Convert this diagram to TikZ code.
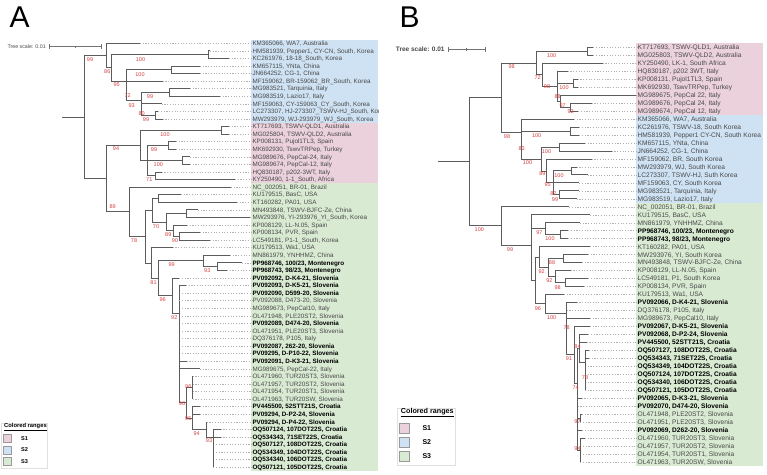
\documentclass[tikz,border=0pt]{standalone}
\usepackage{fontspec}
\setmainfont{Liberation Sans}
\definecolor{cpink}{RGB}{234,209,220}
\definecolor{cblue}{RGB}{207,226,243}
\definecolor{cgreen}{RGB}{217,234,211}
\definecolor{bsred}{RGB}{214,64,64}
\definecolor{brc}{RGB}{92,92,92}
\definecolor{lblc}{RGB}{72,72,72}
\pgfmathdeclarefunction{ya}{1}{\pgfmathparse{43.3+(#1-1)*7.57}}
\pgfmathdeclarefunction{yb}{1}{\pgfmathparse{47.3+(#1-1)*7.975}}
\newcommand\bb[1]{\textcolor{black}{\bfseries #1}}
\newcommand\leafA[5]{%
  \coordinate (#1t) at (#3,{ya(#2)});
  \node[lblA] (#1) at (252.3,{ya(#2)}) {#5};
  \draw[dotl] (#1t) -- (#1.west);
  \draw[br] (#1t) -| (#4);
}
\newcommand\leafB[5]{%
  \coordinate (#1t) at (#3,{yb(#2)});
  \node[lblB] (#1) at (637.5,{yb(#2)}) {#5};
  \draw[dotl] (#1t) -- (#1.west);
  \draw[br] (#1t) -| (#4);
}
\begin{document}
\begin{tikzpicture}[x=1pt,y=-1pt,
  br/.style={draw=brc, line width=0.85pt},
  dotl/.style={draw=black!30, line width=0.5pt, dash pattern=on 1.1pt off 1.6pt},
  lblA/.style={anchor=west, inner sep=0pt, font=\fontsize{6.3}{7}\selectfont, text=lblc, text height=4.5pt, text depth=0pt},
  lblB/.style={anchor=west, inner sep=0pt, font=\fontsize{6.6}{7.5}\selectfont, text=lblc, text height=4.7pt, text depth=0pt},
  bs/.style={inner sep=0pt, font=\fontsize{5.5}{6}\selectfont, text=bsred},
  scb/.style={draw=black!55, line width=0.8pt},
  lgbox/.style={draw=black!40, line width=0.4pt},
  lgframe/.style={draw=black!12, line width=0.5pt}
]
\fill[white] (0,0) rectangle (767,474);
\useasboundingbox (0,0) rectangle (767,474);

%================ PANEL A ================
\begin{scope}
\clip (0,0) rectangle (378.3,474);
\node[anchor=base west, inner sep=0pt, font=\fontsize{30}{30}\selectfont] (lettA) at (9.5,27) {A};
% coloured ranges
\fill[cblue] (250.5,39.5) rectangle (378.3,122.8);
\fill[cpink] (250.5,122.8) rectangle (378.3,183.4);
\fill[cgreen] (250.5,183.4) rectangle (378.3,471);
% tree scale
\node[anchor=west, inner sep=0pt, font=\fontsize{5.3}{6}\selectfont, text=lblc] (tsA) at (7.3,46.7) {Tree scale: 0.01};
\coordinate (tsA1) at (49.3,46.7);
\coordinate (tsA2) at (101.7,46.7);
\coordinate (tsAm) at (75.5,46.7);
\draw[scb] (tsA1) -- (tsA2);
\draw[scb] ([yshift=2.3pt]tsA1) -- ([yshift=-2.3pt]tsA1);
\draw[scb] ([yshift=2.3pt]tsA2) -- ([yshift=-2.3pt]tsA2);
\draw[scb] ([yshift=1.2pt]tsAm) -- ([yshift=-1.2pt]tsAm);
% internal nodes
\coordinate (aR0) at (62.3,117.1);
\coordinate (aR) at (84,117.1);
\coordinate (aA1) at (106,55.6);
\coordinate (aA2) at (111.7,67.9);
\coordinate (aN23) at (208.3,54.65);
\coordinate (aA3) at (126.7,81.2);
\coordinate (aN45) at (171,69.8);
\coordinate (aA4) at (141.7,100);
\coordinate (aN78) at (169.5,92.5);
\coordinate (aN1011) at (155,115.2);
\coordinate (aB1) at (106,178.6);
\coordinate (aC1) at (140,145.5);
\coordinate (aN1213) at (221.7,130.35);
\coordinate (aC2) at (147.3,160.65);
\coordinate (aN1415) at (168.3,145.5);
\coordinate (aN1617) at (182.5,160.65);
\coordinate (aN1819) at (155,175.8);
\coordinate (aD1) at (129.3,211.9);
\coordinate (aD2) at (145,236.65);
\coordinate (aD3) at (152,210.3);
\coordinate (aD4) at (158.3,198.5);
\coordinate (aD5) at (166,222.1);
\coordinate (aD6) at (186.7,213.6);
\coordinate (aD7) at (173.3,230.65);
\coordinate (aD8) at (179,236.3);
\coordinate (aD9) at (151.7,263);
\coordinate (aD10) at (158.3,278.25);
\coordinate (aN2931) at (203.3,260.9);
\coordinate (aN3031) at (217.7,266.6);
\coordinate (aN92) at (172.7,295.65);
\coordinate (aP) at (179.3,313.3);
\coordinate (aQ) at (186,402.9);
\coordinate (aTUR) at (192.7,387.7);
\coordinate (aRr) at (192.7,418);
\coordinate (aS) at (206.7,429.55);
\coordinate (aT) at (213.3,437.3);
% internal edges
\draw[br] (aR0) -- (aR);
\foreach \c/\p in {aA1/aR,aB1/aR,aA2/aA1,aN23/aA2,aA3/aA2,aN45/aA3,aA4/aA3,aN78/aA4,aN1011/aA4,
  aC1/aB1,aD1/aB1,aN1213/aC1,aC2/aC1,aN1415/aC2,aN1617/aC2,aN1819/aC2,
  aD2/aD1,aD3/aD2,aD9/aD2,aD4/aD3,aD5/aD3,aD6/aD5,aD7/aD5,aD8/aD7,aD10/aD9,aN2931/aD10,aN92/aD10,
  aN3031/aN2931,aP/aN92,aQ/aP,aTUR/aQ,aRr/aQ,aS/aRr,aT/aS}
  {\draw[br] (\c) -| (\p);}
% leaves
\leafA{a1}{1}{140}{aA1}{KM365066, WA7, Australia}
\leafA{a2}{2}{210}{aN23}{HM581939, Pepper1, CY-CN, South, Korea}
\leafA{a3}{3}{229}{aN23}{KC261976, 18-18\_South, Korea}
\leafA{a4}{4}{200}{aN45}{KM657115, YNta, China}
\leafA{a5}{5}{200}{aN45}{JN664252, CG-1, China}
\leafA{a6}{6}{162.7}{aA3}{MF159062, BR-159062\_BR\_South, Korea}
\leafA{a7}{7}{190}{aN78}{MG983521, Tarquinia, Italy}
\leafA{a8}{8}{220}{aN78}{MG983519, Lazio17, Italy}
\leafA{a9}{9}{161.7}{aA4}{MF159063, CY-159063\_CY\_South, Korea}
\leafA{a10}{10}{158.3}{aN1011}{LC273307, HJ-273307\_TSWV-HJ\_South, Korea}
\leafA{a11}{11}{162.7}{aN1011}{MW293979, WJ-293979\_WJ\_South, Korea}
\leafA{a12}{12}{229}{aN1213}{KT717693, TSWV-QLD1, Australia}
\leafA{a13}{13}{229}{aN1213}{MG025804, TSWV-QLD2, Australia}
\leafA{a14}{14}{176}{aN1415}{KP008131, Pujol1TL3, Spain}
\leafA{a15}{15}{176}{aN1415}{MK692930, TswvTRPep, Turkey}
\leafA{a16}{16}{190}{aN1617}{MG989676, PepCal-24, Italy}
\leafA{a17}{17}{190}{aN1617}{MG989674, PepCal-12, Italy}
\leafA{a18}{18}{161.7}{aN1819}{HQ830187, p202-3WT, Italy}
\leafA{a19}{19}{235}{aN1819}{KY250490, 1-1\_South, Africa}
\leafA{a20}{20}{231}{aD1}{NC\_002051, BR-01, Brazil}
\leafA{a21}{21}{181}{aD4}{KU179515, BasC, USA}
\leafA{a22}{22}{237}{aD4}{KT160282, PA01, USA}
\leafA{a23}{23}{198}{aD6}{MN493848, TSWV-BJFC-Ze, China}
\leafA{a24}{24}{250}{aD6}{MW293976, YI-293976\_YI\_South, Korea}
\leafA{a25}{25}{187}{aD7}{KP008129, LL-N.05, Spain}
\leafA{a26}{26}{200}{aD8}{KP008134, PVR, Spain}
\leafA{a27}{27}{210}{aD8}{LC549181, P1-1\_South, Korea}
\leafA{a28}{28}{172.7}{aD9}{KU179513, Wa1, USA}
\leafA{a29}{29}{230}{aN2931}{MN861979, YNHHMZ, China}
\leafA{a30}{30}{242}{aN3031}{\bb{PP968746, 100/23, Montenegro}}
\leafA{a31}{31}{227}{aN3031}{\bb{PP968743, 98/23, Montenegro}}
\leafA{a32}{32}{179.3}{aN92}{\bb{PV092092, D-K4-21, Slovenia}}
\leafA{a33}{33}{186}{aP}{\bb{PV092093, D-K5-21, Slovenia}}
\leafA{a34}{34}{179.3}{aP}{\bb{PV092090, D599-20, Slovenia}}
\leafA{a35}{35}{179.3}{aP}{PV092088, D473-20, Slovenia}
\leafA{a36}{36}{179.3}{aP}{MG989673, PepCal10, Italy}
\leafA{a37}{37}{179.3}{aP}{OL471948, PLE20ST2, Slovenia}
\leafA{a38}{38}{179.3}{aP}{\bb{PV092089, D474-20, Slovenia}}
\leafA{a39}{39}{179.3}{aP}{OL471951, PLE20ST3, Slovenia}
\leafA{a40}{40}{179.3}{aP}{DQ376178, P105, Italy}
\leafA{a41}{41}{179.3}{aP}{\bb{PV092087, 262-20, Slovenia}}
\leafA{a42}{42}{179.3}{aP}{\bb{PV09295, D-P10-22, Slovenia}}
\leafA{a43}{43}{186.7}{aP}{\bb{PV092091, D-K3-21, Slovenia}}
\leafA{a44}{44}{200}{aP}{MG989675, PepCal-22, Italy}
\leafA{a45}{45}{192.7}{aTUR}{OL471960, TUR20ST3, Slovenia}
\leafA{a46}{46}{192.7}{aTUR}{OL471957, TUR20ST2, Slovenia}
\leafA{a47}{47}{192.7}{aTUR}{OL471954, TUR20ST1, Slovenia}
\leafA{a48}{48}{192.7}{aTUR}{OL471963, TUR20SW, Slovenia}
\leafA{a49}{49}{200}{aRr}{\bb{PV445500, 52STT21S, Croatia}}
\leafA{a50}{50}{200}{aRr}{\bb{PV09294, D-P2-24, Slovenia}}
\leafA{a51}{51}{206.7}{aS}{\bb{PV09294, D-P4-22, Slovenia}}
\leafA{a52}{52}{220.7}{aT}{\bb{OQ507124, 107DOT22S, Croatia}}
\leafA{a53}{53}{220.7}{aT}{\bb{OQ534343, 71SET22S, Croatia}}
\leafA{a54}{54}{213.3}{aT}{\bb{OQ507127, 108DOT22S, Croatia}}
\leafA{a55}{55}{213.3}{aT}{\bb{OQ534349, 104DOT22S, Croatia}}
\leafA{a56}{56}{213.3}{aT}{\bb{OQ534340, 106DOT22S, Croatia}}
\leafA{a57}{57}{213.3}{aT}{\bb{OQ507121, 105DOT22S, Croatia}}
% bootstrap values
\foreach \n/\x/\y/\v in {1/90/60/99, 2/107.3/71.7/86, 3/140.5/59.3/100, 4/116.7/85/95, 5/140/74.3/100,
  6/127.6/95.7/72, 7/131.7/106/93, 8/150/96.8/99, 9/141.7/113.7/80, 10/146/119.5/99,
  11/116/148.3/94, 12/165/135/100, 13/154/150/99, 14/158.3/165/100, 15/149.3/180/71,
  16/112.7/206.7/89, 17/134/241/78, 18/156/226.7/70, 19/168.3/235/89, 20/175/240.7/90,
  21/153.5/282.5/81, 22/171.7/265/99, 23/207.3/271/93, 24/162.7/300/96, 25/174.3/317.3/92,
  26/188.3/386.7/96, 27/182/403.3/96, 28/188.3/418.3/95, 29/196.7/433.3/94, 30/209/441/93}
  {\node[bs] (bsA\n) at (\x,\y) {\v};}
% legend A
\draw[lgframe] (1.4,422.9) rectangle (47.3,468.3);
\node[anchor=west, inner sep=0pt, font=\fontsize{5.8}{6.5}\selectfont\bfseries] (lgA) at (4,426.8) {\underline{Colored ranges}};
\draw[lgbox, fill=cpink] (2.8,434.4) rectangle (10.8,442.4);
\draw[lgbox, fill=cblue] (2.8,445.8) rectangle (10.8,453.8);
\draw[lgbox, fill=cgreen] (2.8,457.2) rectangle (10.8,465.2);
\node[anchor=west, inner sep=0pt, font=\fontsize{5.6}{6}\selectfont\bfseries] (lgA1) at (21,438.4) {S1};
\node[anchor=west, inner sep=0pt, font=\fontsize{5.6}{6}\selectfont\bfseries] (lgA2) at (21,449.8) {S2};
\node[anchor=west, inner sep=0pt, font=\fontsize{5.6}{6}\selectfont\bfseries] (lgA3) at (21,461.2) {S3};
\end{scope}

%================ PANEL B ================
\node[anchor=base west, inner sep=0pt, font=\fontsize{30}{30}\selectfont] (lettB) at (399.5,27) {B};
\fill[cpink] (636,43.3) rectangle (763,115.1);
\fill[cblue] (636,115.1) rectangle (763,202.8);
\fill[cgreen] (636,202.8) rectangle (763,465.9);
% tree scale
\node[anchor=west, inner sep=0pt, font=\fontsize{6.5}{7}\selectfont\bfseries, text=lblc] (tsB) at (395.7,49.3) {Tree scale: 0.01};
\coordinate (tsB1) at (448.3,49.3);
\coordinate (tsB2) at (485,49.3);
\coordinate (tsBm) at (466.7,49.3);
\draw[scb] (tsB1) -- (tsB2);
\draw[scb] ([yshift=2.3pt]tsB1) -- ([yshift=-2.3pt]tsB1);
\draw[scb] ([yshift=2.3pt]tsB2) -- ([yshift=-2.3pt]tsB2);
\draw[scb] ([yshift=1.2pt]tsBm) -- ([yshift=-1.2pt]tsBm);
% internal nodes
\coordinate (bR0) at (438.3,161.7);
\coordinate (bR) at (469.3,161.7);
\coordinate (bA) at (501,97.55);
\coordinate (bS1) at (536,63.0);
\coordinate (bN12) at (587.3,51.3);
\coordinate (bS1b) at (542.3,74.75);
\coordinate (bS1c) at (557.7,86.2);
\coordinate (bN56) at (573.3,83.2);
\coordinate (bS1d) at (560.3,101.15);
\coordinate (bN89) at (570.3,107.1);
\coordinate (bS2) at (521.3,132.1);
\coordinate (bS2p) at (521.3,145.05);
\coordinate (bN1112) at (570,131.1);
\coordinate (bS2c) at (541,159.0);
\coordinate (bN1314) at (559.5,147);
\coordinate (bS2d) at (546,170.95);
\coordinate (bS2e) at (553.3,182.9);
\coordinate (bN1617) at (571.7,170.9);
\coordinate (bN1920) at (559,194.85);
\coordinate (bC) at (501,225.9);
\coordinate (bD) at (531.7,245);
\coordinate (bG) at (545.7,228.7);
\coordinate (bN2425) at (560.7,234.7);
\coordinate (bDp) at (535,280.5);
\coordinate (bH) at (539.3,257.15);
\coordinate (bI) at (548.3,267.6);
\coordinate (bJ) at (563,258.6);
\coordinate (bK) at (555.7,276.6);
\coordinate (bL) at (565.7,282.55);
\coordinate (bF) at (545.7,303.9);
\coordinate (bM) at (566.7,313.3);
\coordinate (bN) at (574.8,354.8);
\coordinate (bO) at (579.3,348.35);
\coordinate (bQ) at (585,362.3);
\coordinate (bP) at (577.7,383.3);
\coordinate (bN4748) at (580.3,418.05);
\coordinate (bN5053) at (580.3,449.95);
\draw[br] (bR0) -- (bR);
\foreach \c/\p in {bA/bR,bC/bR,bS1/bA,bS2/bA,bN12/bS1,bS1b/bS1,bS1c/bS1b,bN56/bS1c,bS1d/bS1c,bN89/bS1d,
  bS2p/bS2,bN1112/bS2p,bS2c/bS2p,bN1314/bS2c,bS2d/bS2c,bS2e/bS2d,bN1617/bS2e,bN1920/bS2e,
  bD/bC,bG/bD,bN2425/bG,bDp/bD,bH/bDp,bF/bDp,bI/bH,bJ/bI,bK/bI,bL/bK,bM/bF,bN/bM,bP/bN,bO/bP,bQ/bO,
  bN4748/bP,bN5053/bP}
  {\draw[br] (\c) -| (\p);}
% leaves
\leafB{b1}{1}{593.3}{bN12}{KT717693, TSWV-QLD1, Australia}
\leafB{b2}{2}{593.3}{bN12}{MG025803, TSWV-QLD2, Australia}
\leafB{b3}{3}{602.7}{bS1b}{KY250490, LK-1, South Africa}
\leafB{b4}{4}{567.7}{bS1c}{HQ830187, p202 3WT, Italy}
\leafB{b5}{5}{577.7}{bN56}{KP008131, Pujol1TL3, Spain}
\leafB{b6}{6}{577.7}{bN56}{MK692930, TswvTRPep, Turkey}
\leafB{b7}{7}{636}{bS1d}{MG989675, PepCal 22, Italy}
\leafB{b8}{8}{591.7}{bN89}{MG989676, PepCal 24, Italy}
\leafB{b9}{9}{578.3}{bN89}{MG989674, PepCal 12, Italy}
\leafB{b10}{10}{574}{bS2}{KM365066, WA7, Australia}
\leafB{b11}{11}{579.3}{bN1112}{KC261976, TSWV-18, South Korea}
\leafB{b12}{12}{579.3}{bN1112}{HM581939, Pepper1 CY-CN, South Korea}
\leafB{b13}{13}{585}{bN1314}{KM657115, YNta, China}
\leafB{b14}{14}{611.7}{bN1314}{JN664252, CG-1, China}
\leafB{b15}{15}{591.7}{bS2d}{MF159062, BR, South Korea}
\leafB{b16}{16}{576.7}{bN1617}{MW293979, WJ, South Korea}
\leafB{b17}{17}{587.7}{bN1617}{LC273307, TSWV-HJ, Suth Korea}
\leafB{b18}{18}{579.3}{bS2e}{MF159063, CY, South Korea}
\leafB{b19}{19}{579.3}{bN1920}{MG983521, Tarquinia, Italy}
\leafB{b20}{20}{576.7}{bN1920}{MG983519, Lazio17, Italy}
\leafB{b21}{21}{569.3}{bC}{NC\_002051, BR-01, Brazil}
\leafB{b22}{22}{590}{bD}{KU179515, BasC, USA}
\leafB{b23}{23}{580}{bG}{MN861979, YNHHMZ, China}
\leafB{b24}{24}{568.3}{bN2425}{\bb{PP968746, 100/23, Montenegro}}
\leafB{b25}{25}{568.3}{bN2425}{\bb{PP968743, 98/23, Montenegro}}
\leafB{b26}{26}{590}{bH}{KT160282, PA01, USA}
\leafB{b27}{27}{588}{bJ}{MW293976, YI, South Korea}
\leafB{b28}{28}{582}{bJ}{MN493848, TSWV-BJFC-Ze, China}
\leafB{b29}{29}{570.7}{bK}{KP008129, LL-N.05, Spain}
\leafB{b30}{30}{588.3}{bL}{LC549181, P1, South Korea}
\leafB{b31}{31}{584}{bL}{KP008134, PVR, Spain}
\leafB{b32}{32}{564}{bF}{KU179513, Wa1, USA}
\leafB{b33}{33}{576.7}{bM}{\bb{PV092066, D-K4-21, Slovenia}}
\leafB{b34}{34}{566.7}{bM}{DQ376178, P105, Italy}
\leafB{b35}{35}{590}{bM}{MG989673, PepCal10, Italy}
\leafB{b36}{36}{590}{bN}{\bb{PV092067, D-K5-21, Slovenia}}
\leafB{b37}{37}{588.3}{bO}{\bb{PV092068, D-P2-24, Slovenia}}
\leafB{b38}{38}{586.7}{bO}{\bb{PV445500, 52STT21S, Croatia}}
\leafB{b39}{39}{589}{bQ}{\bb{OQ507127, 108DOT22S, Croatia}}
\leafB{b40}{40}{589}{bQ}{\bb{OQ534343, 71SET22S, Croatia}}
\leafB{b41}{41}{585}{bQ}{\bb{OQ534349, 104DOT22S, Croatia}}
\leafB{b42}{42}{585}{bQ}{\bb{OQ507124, 107DOT22S, Croatia}}
\leafB{b43}{43}{585}{bQ}{\bb{OQ534340, 106DOT22S, Croatia}}
\leafB{b44}{44}{585}{bQ}{\bb{OQ507121, 105DOT22S, Croatia}}
\leafB{b45}{45}{581.7}{bP}{\bb{PV092065, D-K3-21, Slovenia}}
\leafB{b46}{46}{577.7}{bP}{\bb{PV092070, D474-20, Slovenia}}
\leafB{b47}{47}{582}{bN4748}{OL471948, PLE20ST2, Slovenia}
\leafB{b48}{48}{580.3}{bN4748}{OL471951, PLE20ST3, Slovenia}
\leafB{b49}{49}{582.3}{bP}{\bb{PV092069, D262-20, Slovenia}}
\leafB{b50}{50}{585}{bN5053}{OL471960, TUR20ST3, Slovenia}
\leafB{b51}{51}{580.3}{bN5053}{OL471957, TUR20ST2, Slovenia}
\leafB{b52}{52}{580.3}{bN5053}{OL471954, TUR20ST1, Slovenia}
\leafB{b53}{53}{580.3}{bN5053}{OL471963, TUR20SW, Slovenia}
% bootstrap values
\foreach \n/\x/\y/\v in {1/511.7/66.7/98, 2/551.7/56/100, 3/537.7/77.3/72, 4/547/86.5/98, 5/564/87.7/100,
  6/557.7/97/88, 7/562.7/105.5/97, 8/570.7/111.7/92, 9/507/136.7/98, 10/536.7/135.7/100,
  11/521.7/149/83, 12/546.5/151.3/100, 13/527.5/162.7/100, 14/542.3/174/89, 15/559/175.3/100,
  16/547.7/184.3/95, 17/553.3/193.3/82, 18/555/199.3/99, 19/479.3/230/100, 20/510/249.3/99,
  21/539.3/233/97, 22/550/239/100, 23/552/262.7/88, 24/541.7/271.7/92, 25/549.3/280.7/92,
  26/557.7/287.3/98, 27/537.8/308.3/96, 28/551.7/317.3/100, 29/566.7/327.7/78, 30/577.5/346.2/84,
  31/569/359/91, 32/585/377.7/78, 33/575.7/387.3/74, 34/577.5/422/97, 35/577.5/449/94}
  {\node[bs] (bsB\n) at (\x,\y) {\v};}
% legend B
\draw[lgframe] (397.7,408.3) rectangle (455,465);
\node[anchor=west, inner sep=0pt, font=\fontsize{7.2}{8}\selectfont\bfseries] (lgB) at (400.7,412.3) {\underline{Colored ranges}};
\draw[lgbox, fill=cpink] (399.3,422.7) rectangle (409.3,432.7);
\draw[lgbox, fill=cblue] (399.3,436.7) rectangle (409.3,446.7);
\draw[lgbox, fill=cgreen] (399.3,451) rectangle (409.3,461);
\node[anchor=west, inner sep=0pt, font=\fontsize{7}{8}\selectfont\bfseries] (lgB1) at (422.3,427.7) {S1};
\node[anchor=west, inner sep=0pt, font=\fontsize{7}{8}\selectfont\bfseries] (lgB2) at (422.3,441.7) {S2};
\node[anchor=west, inner sep=0pt, font=\fontsize{7}{8}\selectfont\bfseries] (lgB3) at (422.3,456) {S3};
\end{tikzpicture}
\end{document}
